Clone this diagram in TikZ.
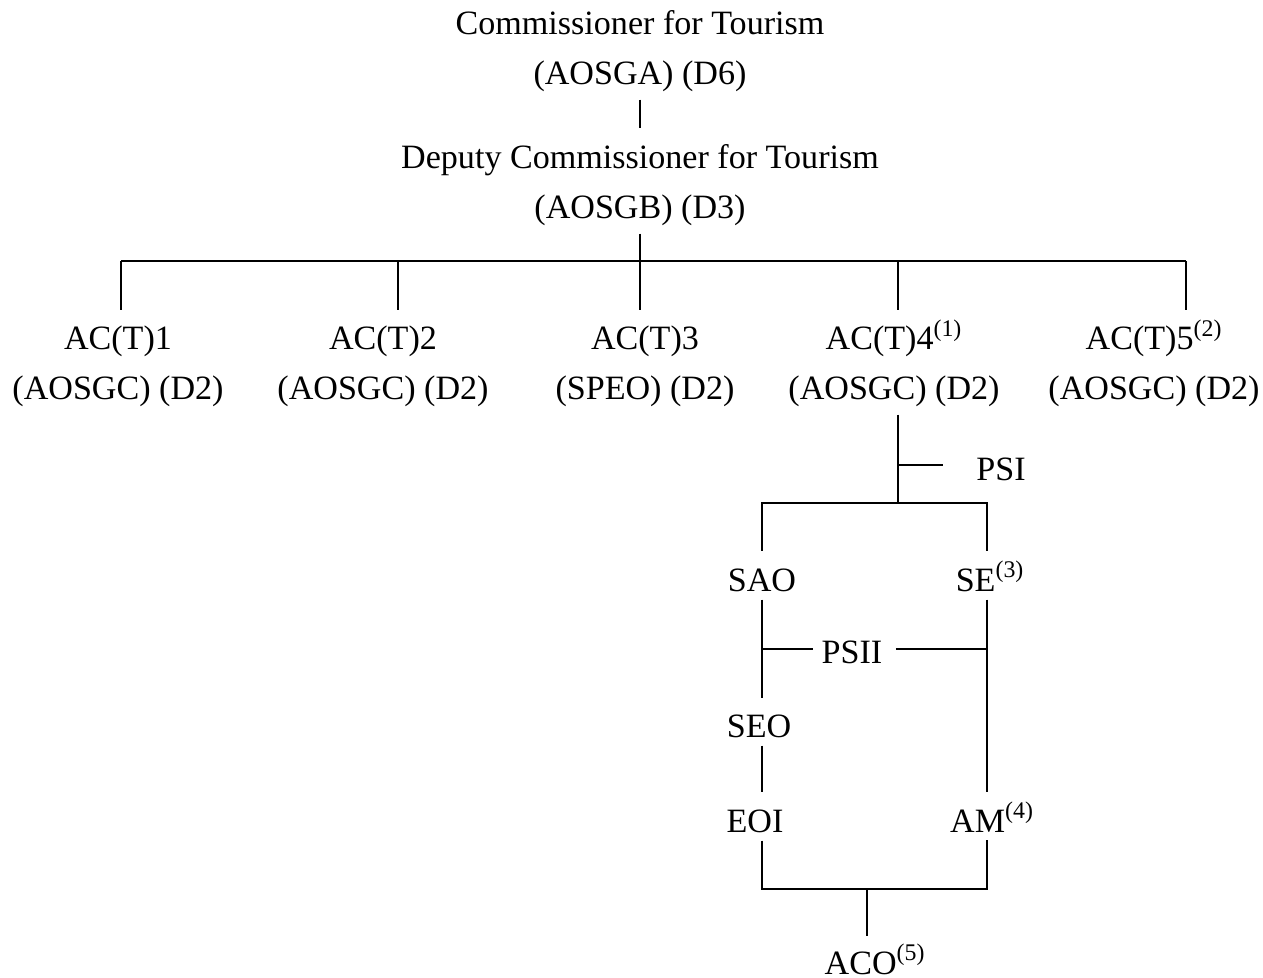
\documentclass[tikz,border=0pt]{standalone}
\usepackage{fontspec}
\setmainfont{Liberation Serif}
\usetikzlibrary{positioning}
\newcommand\rolefont{\fontsize{19.4}{28}\selectfont}
\tikzset{
    post/.style={align=center,inner sep=4.5pt,font=\rolefont},
    wire/.style={draw=black,line width=1.1pt}
}
\begin{document}
\begin{tikzpicture}[x=0.02cm,y=-0.02cm]
    \useasboundingbox (0,0) rectangle (1263,977);

    % commissioner and deputy
    \node[post,anchor=base] (comm) at (640,84) {Commissioner for Tourism\\(AOSGA) (D6)};
    \node[post,anchor=base] (dep) at (640,218) {Deputy Commissioner for Tourism\\(AOSGB) (D3)};
    \draw[wire,shorten >=5pt] (comm) -- (dep);

    % assistant commissioners
    \node[post,anchor=base] (act1) at (118,399) {AC(T)1\\(AOSGC) (D2)};
    \node[post,anchor=base] (act2) at (383,399) {AC(T)2\\(AOSGC) (D2)};
    \node[post,anchor=base] (act3) at (645,399) {AC(T)3\\(SPEO) (D2)};
    \node[post,anchor=base] (act4) at (894,399) {AC(T)4\textsuperscript{(1)}\\(AOSGC) (D2)};
    \node[post,anchor=base] (act5) at (1154,399) {AC(T)5\textsuperscript{(2)}\\(AOSGC) (D2)};

    \coordinate (hub) at (640,261);
    \draw[wire] (dep.south) -- (hub);
    \foreach \n/\x in {act1/121,act2/398,act3/640,act4/898,act5/1186}{
        \coordinate (d-\n) at (\x,261);
        \draw[wire,shorten >=4.5pt] (d-\n) -- (d-\n |- act1.north);
    }
    \draw[wire] (d-act1) -- (d-act5);

    % branch under AC(T)4
    \node[post,anchor=base] (psi) at (1001,480) {PSI};
    \coordinate (k1) at (898,465);
    \coordinate (j2) at (898,503);
    \draw[wire] (j2 |- act4.south) -- (j2);
    \draw[wire,shorten >=14.5pt] (k1) -- (k1 -| psi.west);

    \node[post,anchor=base] (sao) at (762,591) {SAO};
    \node[post,anchor=base] (se) at (990,591) {SE\textsuperscript{(3)}};
    \coordinate (l1) at (762,503);
    \coordinate (r1) at (987,503);
    \draw[wire,shorten <=5.5pt,shorten >=5.5pt] (l1 |- sao.north) -- (l1) -- (r1) -- (r1 |- sao.north);

    \node[post,anchor=base] (psii) at (852,663) {PSII};
    \node[post,anchor=base] (seo) at (759,737) {SEO};
    \draw[wire,shorten >=4.5pt] (l1 |- sao.south) -- (l1 |- seo.north);
    \coordinate (l2) at (762,649);
    \coordinate (r2) at (987,649);
    \draw[wire] (l2) -- (l2 -| psii.west);
    \draw[wire,shorten <=3pt] (r2 -| psii.east) -- (r2);

    \node[post,anchor=base] (eoi) at (755,832) {EOI};
    \node[post,anchor=base] (am) at (992,832) {AM\textsuperscript{(4)}};
    \draw[wire,shorten >=5pt] (l1 |- seo.south) -- (l1 |- eoi.north);
    \draw[wire,shorten >=5pt] (r1 |- se.south) -- (r1 |- eoi.north);

    % clerical officer
    \coordinate (l3) at (762,889);
    \coordinate (r3) at (987,889);
    \coordinate (m3) at (867,889);
    \draw[wire] (l3 |- eoi.south) -- (l3) -- (r3) -- (r3 |- am.south);
    \node[post,anchor=base] (aco) at (875,974) {ACO\textsuperscript{(5)}};
    \draw[wire] (m3) -- (m3 |- aco.north);
\end{tikzpicture}
\end{document}
